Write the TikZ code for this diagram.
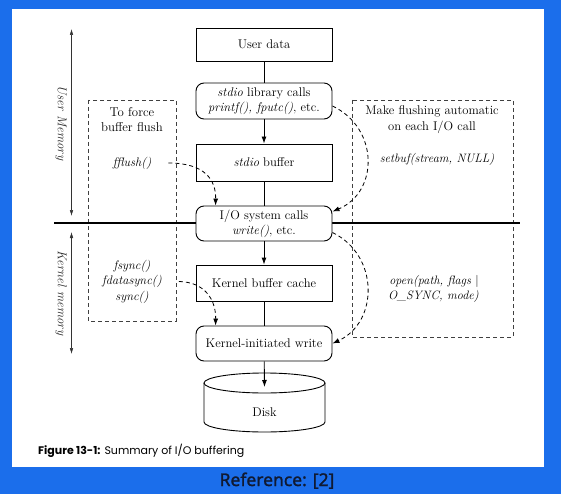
\documentclass[tikz,border=0pt]{standalone}
\usepackage{fontspec}
\newfontfamily\capfont{Poppins}
\newfontfamily\reffont[FakeBold=1.4]{Noto Sans}
\usetikzlibrary{arrows.meta}
\definecolor{bgblue}{RGB}{27,110,235}
\definecolor{refnavy}{RGB}{16,26,50}
\tikzset{
  box/.style={draw, line width=0.9pt, fill=white, minimum width=136pt, align=center,
    font=\fontsize{12.6}{15}\selectfont, inner sep=2pt},
  rbox/.style={box, rounded corners=8pt},
  conn/.style={line width=0.9pt},
  arr/.style={line width=0.9pt, -{Latex[length=7pt,width=5pt]}},
  dasharr/.style={line width=0.8pt, dash pattern=on 4pt off 3pt, -{Latex[length=7pt,width=5pt]}},
  dbox/.style={draw=black!75, line width=0.7pt, dash pattern=on 4pt off 3pt},
  lbl/.style={font=\fontsize{12.8}{15.5}\selectfont, align=center, inner sep=1pt},
  ilbl/.style={lbl, font=\itshape\fontsize{12.4}{15.5}\selectfont},
  sidearr/.style={line width=0.5pt, draw=black!80, {Latex[length=6pt,width=3.5pt]}-{Latex[length=6pt,width=3.5pt]}},
  sidelbl/.style={rotate=-90, text=black!85, font=\itshape\fontsize{12.8}{13}\selectfont, inner sep=0pt},
}
\begin{document}
\begin{tikzpicture}[x=1pt,y=1pt]
\useasboundingbox (0,0) rectangle (561,-494);
\fill[bgblue] (0,0) rectangle (561,-494);
\fill[white] (12,-9) rectangle (544,-467);

% dashed boxes
\draw[dbox] (88,-100) rectangle (176,-321);
\draw[dbox] (352,-100) rectangle (513,-337);

% separator line
\coordinate (sepL) at (54,-223);
\coordinate (sepR) at (520,-223);
\draw[line width=1.6pt] (sepL) -- (sepR);

% main boxes
\node[box, minimum height=33pt] (ud) at (264,-44.5) {User data};
\node[rbox, minimum height=36pt] (lib) at (264,-101) {\textit{stdio} library calls\\\textit{printf(), fputc()}, etc.};
\node[box, minimum height=37pt] (sb) at (264,-162.5) {\textit{stdio} buffer};
\node[rbox, minimum height=35pt] (io) at (264,-223.5) {I/O system calls\\\textit{write()}, etc.};
\node[box, minimum height=36pt] (kbc) at (264,-283) {Kernel buffer cache};
\node[rbox, minimum height=35pt] (kiw) at (264,-343.5) {Kernel-initiated write};

% disk
\draw[line width=0.9pt, fill=white] (204,-383) -- (204,-422) arc[start angle=180, end angle=360, x radius=60.5pt, y radius=10pt] -- (325,-383);
\draw[line width=0.9pt] (264.5,-383) ellipse[x radius=60.5pt, y radius=10pt];
\node[lbl, font=\fontsize{12.6}{15}\selectfont] (disk) at (264.5,-412) {Disk};
\coordinate (disktop) at (264.5,-387);

% vertical connectors
\draw[conn] (ud) -- (lib);
\draw[arr] (lib) -- (sb);
\draw[conn] (sb) -- (io);
\draw[arr] (io) -- (kbc);
\draw[conn] (kbc) -- (kiw);
\draw[arr] (kiw) -- (disktop);

% left labels
\node[lbl] (tof) at (132,-119.5) {To force\\buffer flush};
\node[ilbl] (ff) at (132,-163) {fflush()};
\node[ilbl] (fs) at (132,-281.5) {fsync()\\fdatasync()\\sync()};

% right labels
\node[lbl, font=\fontsize{12.6}{15.5}\selectfont] (mfa) at (432,-119.5) {Make flushing automatic\\on each I/O call};
\node[ilbl, font=\itshape\fontsize{12.2}{15.5}\selectfont] (sbuf) at (437,-159) {setbuf(stream, NULL)};
\node[ilbl, font=\itshape\fontsize{12.2}{14.5}\selectfont, align=right, anchor=east] (opn) at (480,-289) {open(path, flags \textup{|}\\O\_SYNC, mode)};

% dashed arrows
\draw[dasharr] ([xshift=16pt]ff.east) .. controls (205,-163) and (216,-180) .. ([xshift=20pt]io.north west);
\draw[dasharr] ([xshift=16pt]fs.east) .. controls (205,-282) and (216,-300) .. ([xshift=20pt]kiw.north west);
\draw[dasharr] ([yshift=-5pt]lib.east) .. controls (379,-128) and (379,-192) .. ([yshift=-6pt]io.north east);
\draw[dasharr] ([yshift=-9pt]io.east) .. controls (379,-255) and (379,-322) .. (kiw.east);

% side arrows
\coordinate (umt) at (71.5,-29);
\coordinate (umb) at (71.5,-216);
\coordinate (kmt) at (71.5,-232);
\coordinate (kmb) at (71.5,-354);
\draw[sidearr] (umt) -- (umb);
\draw[sidearr] (kmt) -- (kmb);
\node[sidelbl] (uml) at (61,-123) {User Memory};
\node[sidelbl] (kml) at (61,-293) {Kernel memory};

% caption
\node[anchor=base west, inner sep=0pt, font=\capfont\fontsize{11}{13}\selectfont] (cap) at (38,-454) {\textbf{Figure 13-1:} Summary of I/O buffering};
\node[anchor=base, inner sep=0pt, text=refnavy, font=\reffont\fontsize{17.5}{20}\selectfont] (ref) at (277,-486) {Reference: [2]};
\end{tikzpicture}
\end{document}
